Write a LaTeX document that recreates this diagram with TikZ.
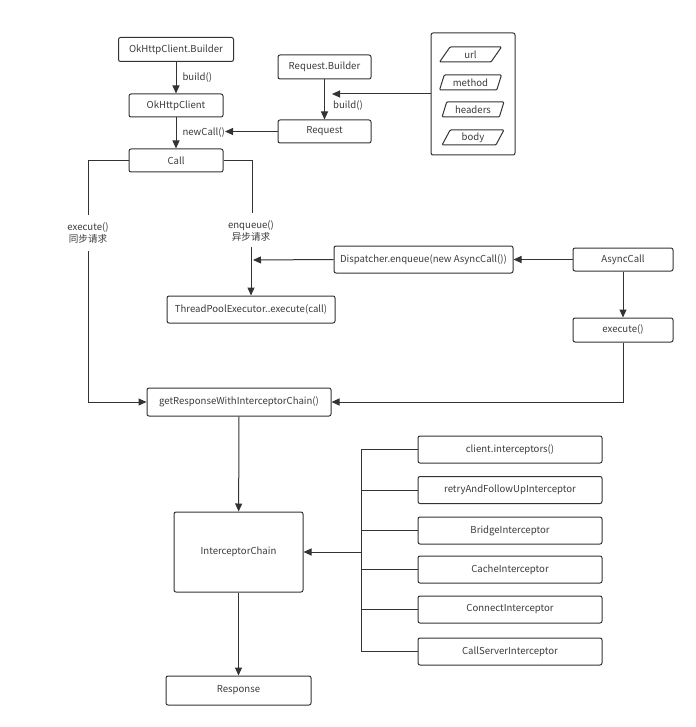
\documentclass[tikz,border=0pt]{standalone}
\usepackage{fontspec}
\setmainfont{Noto Sans CJK SC}
\usetikzlibrary{arrows.meta,shapes.geometric}

\definecolor{linegray}{HTML}{333333}
\definecolor{textgray}{HTML}{3A3A3A}

\tikzset{
    box/.style={draw=linegray, line width=1pt, rounded corners=2pt, inner sep=0pt,
        minimum height=24pt, text=textgray, font=\fontsize{9.6}{11}\selectfont},
    para/.style={trapezium, trapezium left angle=68, trapezium right angle=112,
        trapezium stretches=true, draw=linegray, line width=1pt, rounded corners=1pt,
        minimum width=62pt, minimum height=15pt, inner sep=0pt,
        text=textgray, font=\fontsize{9.6}{11}\selectfont},
    flow/.style={draw=linegray, line width=1pt, -{Triangle[length=8pt,width=7pt]}},
    wire/.style={draw=linegray, line width=1pt},
    lbl/.style={text=textgray, inner sep=0pt, font=\fontsize{9.6}{12}\selectfont}
}

\begin{document}
\begin{tikzpicture}[x=1pt, y=-1pt]
    \useasboundingbox (0,0) rectangle (695,727);

    % client side
    \node[box, minimum width=115pt] (builder) at (176,49.5) {OkHttpClient.Builder};
    \node[box, minimum width=94pt, minimum height=23pt] (client) at (176,105.5) {OkHttpClient};
    \node[box, minimum width=94pt, minimum height=23pt] (call) at (176,160.5) {Call};

    % request side
    \node[box, minimum width=93pt] (reqbuilder) at (324.5,67) {Request.Builder};
    \node[box, minimum width=93pt, minimum height=23pt] (request) at (324.5,131.5) {Request};

    \node[box, minimum width=84pt, minimum height=122pt] (params) at (473,94) {};
    \node[para] (url) at (470.5,54.5) {url};
    \node[para] (method) at (470.5,82.5) {method};
    \node[para] (headers) at (473,109.5) {headers};
    \node[para] (body) at (473,137.5) {body};

    \coordinate (paramsend) at (332,94);
    \coordinate (newcallend) at (225,131.5);

    \draw[flow] (builder) -- (client) node[lbl, midway, right=6pt] {build()};
    \draw[flow] (client) -- (call) node[lbl, midway, right=6pt] {newCall()};
    \draw[flow] (reqbuilder) -- (request);
    \draw[flow] (params.west) -- (paramsend);
    \node[lbl, anchor=west] (reqbuild) at (333,106) {build()};
    \draw[flow] (request) -- (newcallend);

    % sync / async
    \node[lbl, align=center] (sync) at (88,233) {execute()\\同步请求};
    \node[lbl, align=center] (async) at (251,231) {enqueue()\\异步请求};
    \node[box, minimum width=179pt, minimum height=27pt] (dispatcher) at (423.5,259.5) {Dispatcher.enqueue(new AsyncCall())};
    \node[box, minimum width=100pt, minimum height=23pt] (asynccall) at (623,259.5) {AsyncCall};
    \node[box, minimum width=100pt, minimum height=24pt] (asyncexec) at (623,330) {execute()};
    \node[box, minimum width=168pt, minimum height=27pt] (pool) at (251,309.5) {ThreadPoolExecutor..execute(call)};
    \node[box, minimum width=184pt, minimum height=28pt] (getresp) at (239,402) {getResponseWithInterceptorChain()};

    \coordinate (syncup) at (88,215);
    \coordinate (syncdown) at (88,251);
    \coordinate (asyncup) at (252,213);
    \coordinate (asyncdown) at (251,247);
    \coordinate (dispend) at (253,260);

    \draw[wire] (call.west) -| (syncup);
    \draw[flow] (syncdown) |- (getresp.west);
    \draw[wire] (call.east) -| (asyncup);
    \draw[flow] (asyncdown) -- (pool.north);
    \draw[flow] (dispatcher.west) -- (dispend);
    \draw[flow] (asynccall) -- (dispatcher);
    \draw[flow] (asynccall) -- (asyncexec);
    \draw[flow] (asyncexec.south) |- (getresp.east);

    % interceptor chain
    \node[box, minimum width=129pt, minimum height=80pt] (chain) at (238.5,552) {InterceptorChain};
    \node[box, minimum width=145pt, minimum height=29pt] (response) at (238.5,690.5) {Response};

    \foreach \name/\ypos/\txt in {userint/449.5/client.interceptors(),
                                  retryint/490/retryAndFollowUpInterceptor,
                                  bridgeint/530.5/BridgeInterceptor,
                                  cacheint/569.5/CacheInterceptor,
                                  connectint/609.5/ConnectInterceptor,
                                  serverint/651.5/CallServerInterceptor} {
        \node[box, minimum width=184pt, minimum height=27pt] (\name) at (510,\ypos) {\txt};
        \draw[wire] (\name.west) -- (361,\ypos);
    }

    \coordinate (bustop) at (361,449.5);
    \coordinate (busbot) at (361,651.5);
    \coordinate (busmid) at (361,552);
    \draw[wire] (bustop) -- (busbot);
    \draw[flow] (busmid) -- (chain.east);

    \draw[flow] (getresp) -- (chain);
    \draw[flow] (chain) -- (response);
\end{tikzpicture}
\end{document}
